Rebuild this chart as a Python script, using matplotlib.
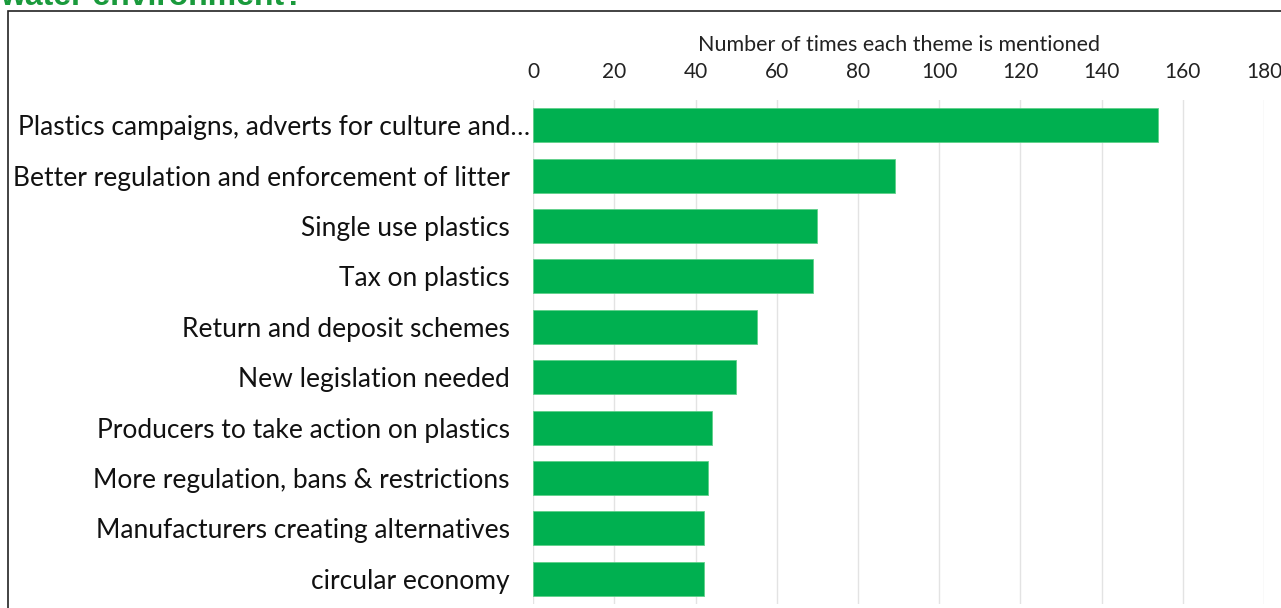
import matplotlib.pyplot as plt
import matplotlib.transforms as mtransforms
from matplotlib.patches import Rectangle

themes = [
    "Plastics campaigns, adverts for culture and\u2026",
    "Better regulation and enforcement of litter",
    "Single use plastics",
    "Tax on plastics",
    "Return and deposit schemes",
    "New legislation needed",
    "Producers to take action on plastics",
    "More regulation, bans & restrictions",
    "Manufacturers creating alternatives",
    "circular economy",
]
mentions = [154, 89, 70, 69, 55, 50, 44, 43, 42, 42]
x_ticks = [0, 20, 40, 60, 80, 100, 120, 140, 160, 180]

plt.rcParams['font.family'] = ['Lato', 'DejaVu Sans']

fig = plt.figure(figsize=(12.81, 6.08), dpi=100)
ax = fig.add_axes([533.3 / 1281, 1 - 604 / 608, (1264 - 533.3) / 1281, 504 / 608])

y = list(range(len(themes)))
ax.barh(y, mentions, height=0.675, color='#00B050', edgecolor='#5FD08A', linewidth=0.6, zorder=2)
ax.set_ylim(len(themes) - 0.5, -0.5)
ax.set_yticks(y)
ax.set_yticklabels(themes, fontsize=19, color='#111111')
ax.set_xlim(0, 180)
ax.set_xticks(x_ticks)
ax.xaxis.tick_top()
ax.xaxis.set_label_position('top')
ax.tick_params(axis='x', length=0, pad=13, labelsize=15, labelcolor='#222222')
ax.tick_params(axis='y', length=0, pad=17)
ax.set_xlabel('Number of times each theme is mentioned', fontsize=15.5, color='#222222', labelpad=8)
ax.grid(axis='x', color='#E3E3E3', linewidth=1.0, zorder=0)
ax.set_axisbelow(True)
for s in ax.spines.values():
    s.set_visible(False)

# first label sits closer to the bars (truncated label in the original)
lbl = ax.get_yticklabels()[0]
lbl.set_transform(lbl.get_transform() + mtransforms.ScaledTranslation(20 / 100, 0, fig.dpi_scale_trans))

# frame around the chart
fig.patches.append(Rectangle((8 / 1281, -0.1), 1.2, 1 - 11 / 608 + 0.1, transform=fig.transFigure,
                             fill=False, edgecolor='#222222', linewidth=1.2))

# title, cut off at the top as in the original
fig.text(0.0, 1 - 5 / 608, 'water environment?', fontsize=23, fontweight='bold', color='#1A9A3C',
         family='Liberation Sans', va='baseline', ha='left')

fig.savefig('out.png', dpi=100)
